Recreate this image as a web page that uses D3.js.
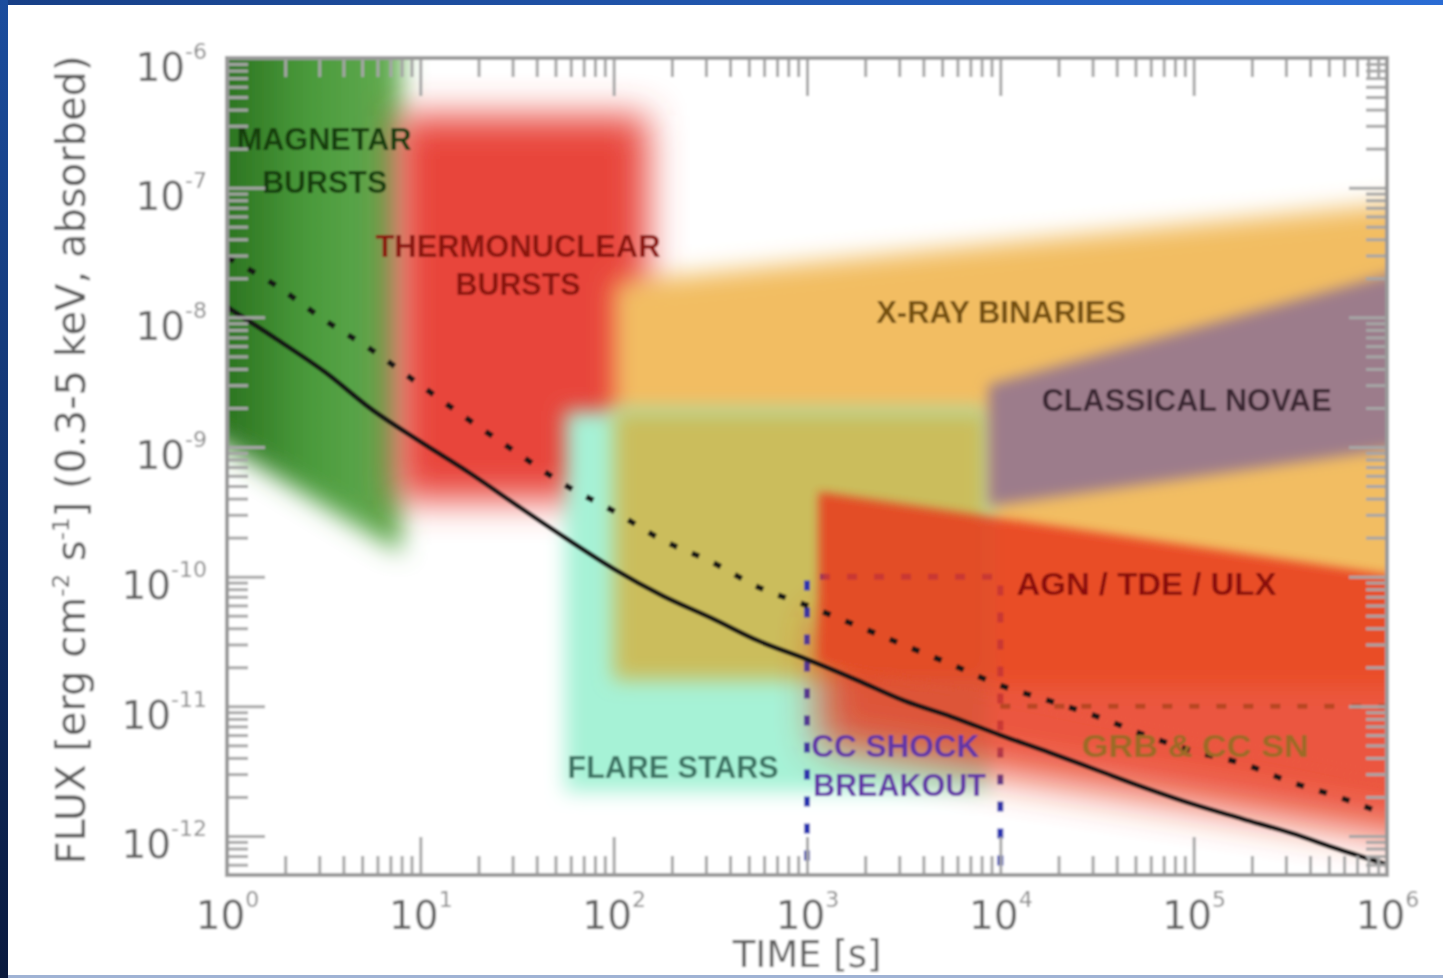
<!DOCTYPE html>
<html>
<head>
<meta charset="utf-8">
<script src="https://cdn.jsdelivr.net/npm/d3@7/dist/d3.min.js"></script>
<style>
html, body { margin: 0; padding: 0; background: #fff; overflow: hidden; }
svg { display: block; }
</style>
</head>
<body>
<svg width="1443" height="978"></svg>
<script>
// axis ticks
var xTicks = [1, 10, 100, 1000, 1e4, 1e5, 1e6];
var xTickExp = ["0", "1", "2", "3", "4", "5", "6"];
var yTicks = [1e-6, 1e-7, 1e-8, 1e-9, 1e-10, 1e-11, 1e-12];
var yTickExp = ["-6", "-7", "-8", "-9", "-10", "-11", "-12"];

// the two sensitivity curves
var timeS = [1, 1.8, 3.2, 5.6, 10, 18, 32, 56, 100, 180, 320, 560, 1000, 1800, 3200, 5600,
             1e4, 1.8e4, 3.2e4, 5.6e4, 1e5, 1.8e5, 3.2e5, 5.6e5, 1e6];
var fluxSolid = [1.2e-8, 6.8e-9, 3.8e-9, 1.95e-9, 1.1e-9, 6.3e-10, 3.5e-10, 2.0e-10, 1.15e-10,
                 7.1e-11, 4.8e-11, 3.2e-11, 2.3e-11, 1.6e-11, 1.1e-11, 8.3e-12,
                 6.0e-12, 4.4e-12, 3.2e-12, 2.35e-12, 1.75e-12, 1.35e-12, 1.05e-12, 7.9e-13, 6.0e-13];
var fluxDashed = [2.9e-8, 1.75e-8, 9.5e-9, 5.6e-9, 3.0e-9, 1.6e-9, 8.9e-10, 5.1e-10, 3.2e-10,
                  1.9e-10, 1.3e-10, 8.3e-11, 6.0e-11, 4.2e-11, 2.95e-11, 2.1e-11,
                  1.45e-11, 1.1e-11, 8.3e-12, 6.0e-12, 4.5e-12, 3.6e-12, 2.6e-12, 2.0e-12, 1.45e-12];

// source classes: outline vertices as [time s, flux]
var magnetarBursts = [[0.3, 1e-5], [8.0, 1e-5], [8.0, 1.5e-10], [0.3, 3e-9]];
var thermonuclearBursts = [[7.5, 3.6e-7], [150, 3.6e-7], [150, 3.9e-10], [7.5, 3.9e-10]];
var xrayBinaries = [[100, 1.86e-8], [1e7, 1.05e-7], [1e7, 1.4e-11], [100, 1.4e-11]];
var flareStars = [[56, 1.9e-9], [8700, 1.9e-9], [8700, 2.2e-12], [56, 2.2e-12]];
var flareOnBinaries = [[100, 1.9e-9], [8700, 1.9e-9], [8700, 1.6e-11], [100, 1.6e-11]];
var classicalNovae = [[8700, 3.0e-9], [1e7, 5.5e-8], [1e7, 1.55e-9], [8700, 3.5e-10]];
var agnCore = [[1150, 4.5e-10], [1e7, 6.3e-11], [1e7, 1.3e-12], [1150, 2.2e-11]];
var agnTail = [[1150, 5e-11], [1e7, 4e-12], [1e7, 5.9e-13], [1150, 5e-12]];
var ccShockBox = [[1000, 4e-13], [1000, 1e-10], [1e4, 1e-10], [1e4, 4e-13]];
var snBox = [[1e4, 1e-11], [1e6, 1e-11]];

// region labels
var labelText = ["MAGNETAR", "BURSTS", "THERMONUCLEAR", "BURSTS", "X-RAY BINARIES", "CLASSICAL NOVAE",
                 "AGN / TDE / ULX", "FLARE STARS", "CC SHOCK", "BREAKOUT", "GRB & CC SN"];
var labelClass = ["magnetar", "magnetar", "thermo", "thermo", "xrb", "novae", "agn", "flare", "cc", "cc", "sn"];
var labelTime = [3.18, 3.2, 32, 32, 1.01e4, 9.2e4, 5.7e4, 203, 2860, 3010, 1.02e5];
var labelFlux = [1.95e-7, 9.1e-8, 2.92e-8, 1.48e-8, 9.1e-9, 1.9e-9, 7.2e-11, 2.8e-12, 4.1e-12, 2.05e-12, 4.1e-12];

var labelColor = {magnetar: "#163c0d", thermo: "#8a130f", xrb: "#74500f", novae: "#3a2532",
                  agn: "#8a0b07", flare: "#3b7262", cc: "#6236a6", sn: "#9c6a28"};
var labelWidth = {"MAGNETAR": 175, "BURSTS": 125, "THERMONUCLEAR": 285, "X-RAY BINARIES": 250,
                  "CLASSICAL NOVAE": 290, "AGN / TDE / ULX": 260, "FLARE STARS": 211,
                  "CC SHOCK": 168, "BREAKOUT": 173, "GRB & CC SN": 227};

var ML = 227, MT = 58, W = 1160, H = 817;

var svg = d3.select("svg");
var defs = svg.append("defs");

function blurFilter(id, s, userSpace) {
    var f = defs.append("filter").attr("id", id);
    if (userSpace) {
        f.attr("filterUnits", "userSpaceOnUse").attr("x", 0).attr("y", 0).attr("width", 1443).attr("height", 978);
    } else {
        f.attr("x", "-40%").attr("y", "-40%").attr("width", "180%").attr("height", "180%");
    }
    f.append("feGaussianBlur").attr("stdDeviation", s);
}
blurFilter("soft", 1.2, true);
[5, 7, 10, 12, 18, 20].forEach(function(s) { blurFilter("b" + s, s, false); });

var gMag = defs.append("linearGradient").attr("id", "gradMag")
    .attr("gradientUnits", "userSpaceOnUse").attr("x1", 0).attr("x2", 180).attr("y1", 0).attr("y2", 0);
gMag.append("stop").attr("offset", "0%").attr("stop-color", "#2c7420");
gMag.append("stop").attr("offset", "45%").attr("stop-color", "#4a9a3b");
gMag.append("stop").attr("offset", "100%").attr("stop-color", "#66ae54");

var gLeft = defs.append("linearGradient").attr("id", "gradLeft").attr("x1", 0).attr("x2", 0).attr("y1", 0).attr("y2", 1);
gLeft.append("stop").attr("offset", "0%").attr("stop-color", "#1b4d9e");
gLeft.append("stop").attr("offset", "100%").attr("stop-color", "#0a1a3e");
var gTop = defs.append("linearGradient").attr("id", "gradTop");
gTop.append("stop").attr("offset", "0%").attr("stop-color", "#173f86");
gTop.append("stop").attr("offset", "100%").attr("stop-color", "#2a6cd4");

defs.append("clipPath").attr("id", "plotClip")
    .append("rect").attr("width", W).attr("height", H);

var x = d3.scaleLog().domain([1, 1e6]).range([0, W]);
var y = d3.scaleLog().domain([5e-13, 1e-6]).range([H, 0]);

var root = svg.append("g").attr("filter", "url(#soft)");
root.append("rect").attr("width", 1443).attr("height", 978).attr("fill", "#fff");

var plot = root.append("g").attr("transform", "translate(" + ML + "," + MT + ")");
var area = plot.append("g").attr("clip-path", "url(#plotClip)");

var outline = d3.line().x(function(d) { return x(d[0]); }).y(function(d) { return y(d[1]); });

function region(parent, pts, fill, blur) {
    parent.append("path")
        .attr("d", outline(pts) + "Z")
        .attr("fill", fill)
        .attr("filter", "url(#b" + blur + ")");
}

region(area, magnetarBursts, "url(#gradMag)", 12);
region(area, thermonuclearBursts, "#e8443b", 18);
region(area, xrayBinaries, "#f2bd62", 12);
region(area, flareStars, "#a6f2d6", 10);
region(area, flareOnBinaries, "#cbbd5c", 10);
region(area, classicalNovae, "#9c7b8b", 7);

// CC shock breakout box sits under the AGN layer
area.append("path")
    .attr("d", outline(ccShockBox))
    .attr("fill", "none")
    .attr("stroke", "#2c36b0")
    .attr("stroke-width", 6)
    .attr("stroke-dasharray", "10,17");

var agn = area.append("g").attr("opacity", 0.84);
region(agn, agnTail, "#e8391f", 20);
region(agn, agnCore, "#e8391f", 5);

area.append("path")
    .attr("d", outline(snBox))
    .attr("fill", "none")
    .attr("stroke", "#a3401a")
    .attr("stroke-opacity", 0.7)
    .attr("stroke-width", 5)
    .attr("stroke-dasharray", "10,17");

// curves
var curve = d3.line()
    .x(function(d, i) { return x(timeS[i]); })
    .y(function(d) { return y(d); })
    .curve(d3.curveMonotoneX);

area.append("path")
    .attr("d", curve(fluxSolid))
    .attr("fill", "none")
    .attr("stroke", "#121212")
    .attr("stroke-width", 5);

area.append("path")
    .attr("d", curve(fluxDashed))
    .attr("fill", "none")
    .attr("stroke", "#141414")
    .attr("stroke-width", 5.5)
    .attr("stroke-dasharray", "8,16");

// labels
plot.selectAll("text.lab")
    .data(labelText)
    .enter().append("text")
    .attr("class", "lab")
    .attr("x", function(d, i) { return x(labelTime[i]); })
    .attr("y", function(d, i) { return y(labelFlux[i]); })
    .attr("text-anchor", "middle")
    .attr("font-family", "Liberation Sans, Arial, sans-serif")
    .attr("font-weight", "bold")
    .attr("font-size", 31)
    .attr("textLength", function(d) { return labelWidth[d]; })
    .attr("lengthAdjust", "spacingAndGlyphs")
    .attr("fill", function(d, i) { return labelColor[labelClass[i]]; })
    .text(function(d) { return d; });

// axes: ticks point inwards on all four sides
function minors(lo, hi) {
    var v = [];
    for (var e = lo; e < hi; e++) {
        for (var k = 2; k < 10; k++) v.push(k * Math.pow(10, e));
    }
    return v;
}
var xMinor = minors(0, 6);
var yMinor = minors(-13, -6).filter(function(v) { return v >= 5e-13; });

function styleAxis(g) {
    g.select(".domain").remove();
    g.selectAll(".tick line").attr("stroke", "#a6a6a6").attr("stroke-width", 3);
}

plot.append("g").attr("transform", "translate(0," + H + ")")
    .call(d3.axisBottom(x).tickValues(xMinor).tickSize(-19).tickFormat(""))
    .call(styleAxis);
plot.append("g")
    .call(d3.axisTop(x).tickValues(xMinor).tickSize(-19).tickFormat(""))
    .call(styleAxis);
plot.append("g")
    .call(d3.axisLeft(y).tickValues(yMinor).tickSize(-21).tickFormat(""))
    .call(styleAxis);
plot.append("g").attr("transform", "translate(" + W + ",0)")
    .call(d3.axisRight(y).tickValues(yMinor).tickSize(-21).tickFormat(""))
    .call(styleAxis);
plot.append("g")
    .call(d3.axisTop(x).tickValues(xTicks).tickSize(-38).tickFormat(""))
    .call(styleAxis);
plot.append("g").attr("transform", "translate(" + W + ",0)")
    .call(d3.axisRight(y).tickValues(yTicks).tickSize(-38).tickFormat(""))
    .call(styleAxis);

function powerLabels(g, exps) {
    g.selectAll(".tick text").each(function(d, i) {
        var t = d3.select(this).text(null)
            .attr("font-family", "DejaVu Sans, sans-serif")
            .attr("font-size", 39)
            .attr("fill", "#606060");
        t.append("tspan").text("10");
        t.append("tspan").attr("dy", -22).attr("font-size", 22).attr("fill", "#8a8a8a").text(exps[i]);
    });
}

plot.append("g").attr("transform", "translate(0," + H + ")")
    .call(d3.axisBottom(x).tickValues(xTicks).tickSize(-38).tickPadding(26).tickFormat(function() { return ""; }))
    .call(styleAxis)
    .call(powerLabels, xTickExp);

plot.append("g")
    .call(d3.axisLeft(y).tickValues(yTicks).tickSize(-38).tickPadding(20).tickFormat(function() { return ""; }))
    .call(styleAxis)
    .call(powerLabels, yTickExp)
    .selectAll(".tick text").attr("dy", 22);

plot.append("rect")
    .attr("width", W).attr("height", H)
    .attr("fill", "none")
    .attr("stroke", "#9a9a9a")
    .attr("stroke-width", 4);

// axis titles
root.append("text")
    .attr("x", ML + x(1000)).attr("y", 967)
    .attr("text-anchor", "middle")
    .attr("font-family", "DejaVu Sans, sans-serif")
    .attr("font-size", 37)
    .attr("fill", "#5e5e5e")
    .text("TIME [s]");

var yt = root.append("text")
    .attr("transform", "translate(85,460) rotate(-90)")
    .attr("text-anchor", "middle")
    .attr("font-family", "DejaVu Sans, sans-serif")
    .attr("font-size", 40)
    .attr("fill", "#5a5a5a");
yt.append("tspan").text("FLUX [erg cm");
yt.append("tspan").attr("dy", -16).attr("font-size", 23).text("-2");
yt.append("tspan").attr("dy", 16).text(" s");
yt.append("tspan").attr("dy", -16).attr("font-size", 23).text("-1");
yt.append("tspan").attr("dy", 16).text("] (0.3-5 keV, absorbed)");

// slide frame
svg.append("rect").attr("x", 0).attr("y", 0).attr("width", 1443).attr("height", 5).attr("fill", "url(#gradTop)");
svg.append("rect").attr("x", 0).attr("y", 0).attr("width", 8).attr("height", 978).attr("fill", "url(#gradLeft)");
svg.append("rect").attr("x", 8).attr("y", 975).attr("width", 1435).attr("height", 3).attr("fill", "#9fb2d4");
</script>
</body>
</html>
